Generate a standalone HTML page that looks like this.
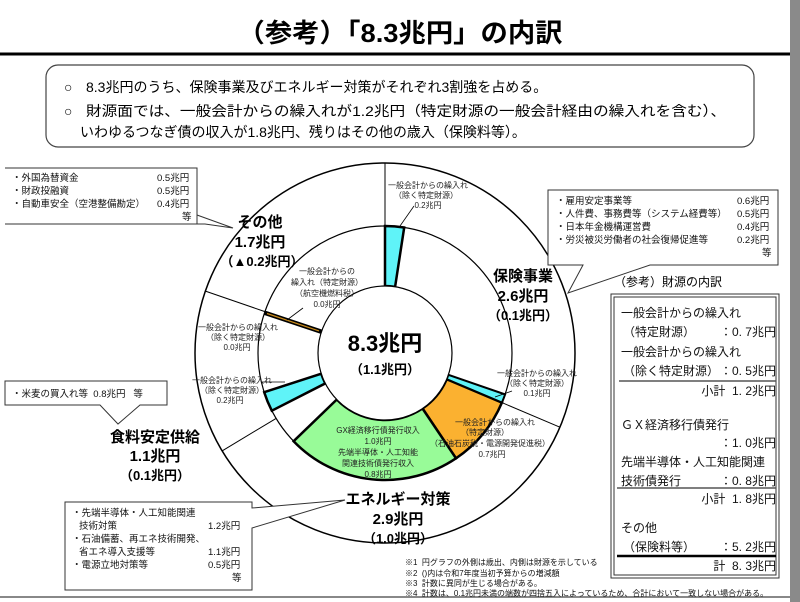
<!DOCTYPE html>
<html><head><meta charset="utf-8">
<style>
body{margin:0;width:800px;height:602px;background:#fff;position:relative;overflow:hidden;font-family:"Liberation Sans","Noto Sans CJK JP",sans-serif;}
</style></head><body>
<svg width="800" height="602" style="position:absolute;left:0;top:0" font-family="Liberation Sans, Noto Sans CJK JP, sans-serif">
<rect x="790" y="0" width="10" height="602" fill="#8a8a8a"/>
<line x1="0" y1="597" x2="790" y2="597" stroke="#888" stroke-width="2"/>
<text x="400" y="42" font-size="26" font-weight="bold" text-anchor="middle" textLength="325" lengthAdjust="spacingAndGlyphs">（参考）「8.3兆円」の内訳</text>
<line x1="0" y1="54" x2="790" y2="54" stroke="#000" stroke-width="3"/>
<rect x="46" y="65" width="708" height="82" rx="12" fill="#fff" stroke="#444" stroke-width="1.2"/>
<text x="64" y="92" font-size="14">○</text><text x="86" y="92" font-size="14">8.3兆円のうち、保険事業及びエネルギー対策がそれぞれ3割強を占める。</text>
<text x="64" y="116" font-size="14">○</text><text x="86" y="116" font-size="14" textLength="640" lengthAdjust="spacingAndGlyphs">財源面では、一般会計からの繰入れが1.2兆円（特定財源の一般会計経由の繰入れを含む）、</text>
<text x="80" y="137" font-size="14">いわゆるつなぎ債の収入が1.8兆円、残りはその他の歳入（保険料等）。</text>

<g transform="translate(385,353)" stroke="#000">
<circle r="190" fill="#fff" stroke-width="1.5"/>
<circle r="127" fill="#fff" stroke-width="1.2"/>
<line x1="0" y1="-127" x2="0" y2="-190" stroke-width="1"/>
<line x1="116.9" y1="49.6" x2="174.9" y2="74.2" stroke-width="1"/>
<line x1="-108.9" y1="65.4" x2="-162.9" y2="97.9" stroke-width="1"/>
<line x1="-120.1" y1="-41.4" x2="-179.6" y2="-61.9" stroke-width="1"/>
<path d="M0,-127 A127,127 0 0 1 19.2,-125.5 L10.1,-66.2 A67,67 0 0 0 0,-67 Z" fill="#5ff3f8" stroke-width="2.5"/>
<path d="M116.9,49.6 A127,127 0 0 1 71,105.3 L37.5,55.5 A67,67 0 0 0 61.7,26.2 Z" fill="#fbb130" stroke-width="2.5"/>
<path d="M120.1,41.4 A127,127 0 0 1 116.9,49.6 L61.7,26.2 A67,67 0 0 0 63.3,21.8 Z" fill="#5ff3f8" stroke-width="2"/>
<path d="M71,105.3 A127,127 0 0 1 -91.4,88.2 L-48.2,46.5 A67,67 0 0 0 37.5,55.5 Z" fill="#98fb98" stroke-width="2.5"/>
<path d="M-113.2,57.7 A127,127 0 0 1 -120.8,39.2 L-63.7,20.7 A67,67 0 0 0 -59.7,30.4 Z" fill="#5ff3f8" stroke-width="2.5"/>
<line x1="-120.4" y1="-40.3" x2="-63.5" y2="-21.3" stroke-width="4.5"/>
<line x1="-118" y1="-39.5" x2="-66" y2="-22.1" stroke="#c98a1a" stroke-width="1.2"/>
<circle r="67" fill="#fff" stroke-width="1.2"/>
</g>
<text x="385" y="351" font-size="22" font-weight="bold" text-anchor="middle">8.3兆円</text>
<text x="385" y="374" font-size="13" font-weight="bold" text-anchor="middle">（1.1兆円）</text>

<g font-size="8" text-anchor="middle" fill="#222">
<text x="428" y="188">一般会計からの繰入れ</text><text x="426" y="198">（除く特定財源）</text><text x="428" y="208">0.2兆円</text>
<text x="327" y="274">一般会計からの</text><text x="327" y="285">繰入れ（特定財源）</text><text x="327" y="296">（航空機燃料税）</text><text x="327" y="307">0.0兆円</text>
<text x="238" y="330">一般会計からの繰入れ</text><text x="238" y="340">（除く特定財源）</text><text x="237" y="350">0.0兆円</text>
<text x="232" y="383">一般会計からの繰入れ</text><text x="232" y="393">（除く特定財源）</text><text x="230" y="403">0.2兆円</text>
<text x="537" y="376">一般会計からの繰入れ</text><text x="537" y="386">（除く特定財源）</text><text x="537" y="396">0.1兆円</text>
<text x="495" y="425">一般会計からの繰入れ</text><text x="485" y="435">（特定財源）</text><text x="490" y="446">（石油石炭税・電源開発促進税）</text><text x="492" y="457">0.7兆円</text>
<text x="378" y="433">GX経済移行債発行収入</text><text x="378" y="444">1.0兆円</text><text x="378" y="455">先端半導体・人工知能</text><text x="378" y="466">関連技術債発行収入</text><text x="378" y="477">0.8兆円</text>
</g>
<g stroke="#000" stroke-width="0.8" fill="none">
<line x1="400" y1="226" x2="414" y2="206"/>
<line x1="287" y1="320" x2="303" y2="308"/>
<line x1="262" y1="382" x2="285" y2="382"/>
<line x1="495" y1="397" x2="512" y2="391"/>
</g>

<g font-weight="bold" font-size="15" text-anchor="middle">
<text x="260" y="227">その他</text><text x="260" y="247">1.7兆円</text><text x="262" y="266" font-size="13">（▲0.2兆円）</text>
<text x="523" y="281">保険事業</text><text x="523" y="301">2.6兆円</text><text x="523" y="320" font-size="13">（0.1兆円）</text>
<text x="155" y="442">食料安定供給</text><text x="155" y="461">1.1兆円</text><text x="155" y="480" font-size="13">（0.1兆円）</text>
<text x="398" y="504">エネルギー対策</text><text x="398" y="524">2.9兆円</text><text x="398" y="543" font-size="13">（1.0兆円）</text>
</g>

<g fill="#fff" stroke="#333" stroke-width="1">
<path d="M5,168 H197 V224 H205 L233,228 L197,215 M197,224 H5 Z"/>
<path d="M548,190 H778 V265 H650 L568,293 L583,265 H548 Z"/>
<path d="M5,381 H167 V405 H140 L118,424 L100,405 H5 Z"/>
<path d="M65,502 H252 V508 L345,500 L252,528 V590 H65 Z"/>
</g>
<g font-size="9.5" fill="#111">
<text x="12" y="181">・外国為替資金</text><text x="157" y="181">0.5兆円</text>
<text x="12" y="194">・財政投融資</text><text x="157" y="194">0.5兆円</text>
<text x="12" y="207">・自動車安全（空港整備勘定）</text><text x="157" y="207">0.4兆円</text>
<text x="182" y="220">等</text>
<text x="556" y="204">・雇用安定事業等</text><text x="737" y="204">0.6兆円</text>
<text x="556" y="217">・人件費、事務費等（システム経費等）</text><text x="737" y="217">0.5兆円</text>
<text x="556" y="230">・日本年金機構運営費</text><text x="737" y="230">0.4兆円</text>
<text x="556" y="243">・労災被災労働者の社会復帰促進等</text><text x="737" y="243">0.2兆円</text>
<text x="762" y="256">等</text>
<text x="12" y="397">・米麦の買入れ等&#160;&#160;0.8兆円&#160;&#160;&#160;等</text>
<text x="72" y="516">・先端半導体・人工知能関連</text>
<text x="79" y="529">技術対策</text><text x="208" y="529">1.2兆円</text>
<text x="72" y="542">・石油備蓄、再エネ技術開発、</text>
<text x="79" y="555">省エネ導入支援等</text><text x="208" y="555">1.1兆円</text>
<text x="72" y="568">・電源立地対策等</text><text x="208" y="568">0.5兆円</text>
<text x="232" y="581">等</text>
</g>

<text x="614" y="286" font-size="12">（参考）財源の内訳</text>
<rect x="611" y="294" width="168" height="284" fill="#fff" stroke="#333" stroke-width="1"/>
<rect x="614" y="297" width="162" height="278" fill="none" stroke="#333" stroke-width="1"/>
<g font-size="12" fill="#111">
<text x="621" y="317">一般会計からの繰入れ</text>
<text x="623" y="336">（特定財源）</text><text x="776" y="336" text-anchor="end">：0. 7兆円</text>
<text x="621" y="356">一般会計からの繰入れ</text>
<text x="623" y="375">（除く特定財源）</text><text x="776" y="375" text-anchor="end">：0. 5兆円</text>
<text x="776" y="395" text-anchor="end">小計&#160;&#160;1. 2兆円</text>
<text x="621" y="429">ＧＸ経済移行債発行</text>
<text x="776" y="447" text-anchor="end">：1. 0兆円</text>
<text x="621" y="466">先端半導体・人工知能関連</text>
<text x="621" y="485">技術債発行</text><text x="776" y="485" text-anchor="end">：0. 8兆円</text>
<text x="776" y="503" text-anchor="end">小計&#160;&#160;1. 8兆円</text>
<text x="621" y="532">その他</text>
<text x="623" y="551">（保険料等）</text><text x="776" y="551" text-anchor="end">：5. 2兆円</text>
<text x="776" y="570" text-anchor="end">計&#160;&#160;8. 3兆円</text>
</g>
<line x1="619" y1="381" x2="776" y2="381" stroke="#555" stroke-width="1.5"/>
<line x1="617" y1="488" x2="776" y2="488" stroke="#555" stroke-width="1.5"/>
<line x1="617" y1="556" x2="776" y2="556" stroke="#000" stroke-width="2.5"/>

<g font-size="8" fill="#111">
<text x="405" y="565">※1&#160;&#160;円グラフの外側は歳出、内側は財源を示している</text>
<text x="405" y="576">※2&#160;&#160;()内は令和7年度当初予算からの増減額</text>
<text x="405" y="586">※3&#160;&#160;計数に異同が生じる場合がある。</text>
<text x="405" y="596">※4&#160;&#160;計数は、0.1兆円未満の端数が四捨五入によっているため、合計において一致しない場合がある。</text>
</g>
</svg>
</body></html>
